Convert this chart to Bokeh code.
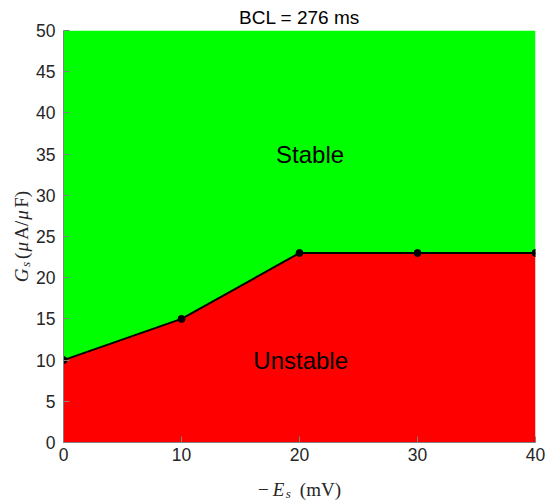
import math
from bokeh.plotting import figure
from bokeh.models import Range1d, Label, FixedTicker
from bokeh.core.properties import value
from bokeh.embed import file_html
from bokeh.resources import INLINE

# ---- data ----
es_values = [0, 10, 20, 30, 40]          # -E_s (mV)
gs_boundary = [10, 15, 23, 23, 23]       # G_s (uA/uF) stability boundary
g_max = 50
g_min = 0
x_ticks = [0, 10, 20, 30, 40]
y_ticks = [0, 5, 10, 15, 20, 25, 30, 35, 40, 45, 50]
title_text = "BCL = 276 ms"
region_labels = ["Stable", "Unstable"]
region_x = [20.9, 20.1]
region_y = [35, 10]

# ---- layout ----
W, H = 546, 500
BL, BR, BT, BB = 63, 11, 30, 58

p = figure(width=W, height=H, output_backend="svg", toolbar_location=None,
           x_range=Range1d(0, 40), y_range=Range1d(0, 50),
           min_border_left=BL, min_border_right=BR, min_border_top=BT, min_border_bottom=BB)
p.outline_line_color = None
p.xgrid.visible = False
p.ygrid.visible = False
p.background_fill_color = "white"

p.title.text = title_text
p.title.align = "center"
p.title.text_font = "Liberation Sans"
p.title.text_font_size = "19px"
p.title.text_font_style = "normal"
p.title.text_color = "black"
p.title.standoff = 5

p.varea(x=es_values, y1=gs_boundary, y2=[g_max] * len(es_values), fill_color="#00ff00")
p.varea(x=es_values, y1=[g_min] * len(es_values), y2=gs_boundary, fill_color="#ff0000")
p.line(es_values, gs_boundary, line_color="black", line_width=2)
p.scatter(es_values, gs_boundary, size=7, color="black")

for ax, ticks, standoff in ((p.xaxis, x_ticks, 5), (p.yaxis, y_ticks, 8)):
    ax.ticker = FixedTicker(ticks=ticks)
    ax.major_tick_in = 6
    ax.major_tick_out = 0
    ax.minor_tick_line_color = None
    ax.axis_line_color = "#808080"
    ax.major_tick_line_color = "#808080"
    ax.major_label_text_font = "Liberation Sans"
    ax.major_label_text_font_size = "17.5px"
    ax.major_label_text_color = "#262626"
    ax.major_label_standoff = standoff

for txt, rx, ry in zip(region_labels, region_x, region_y):
    p.add_layout(Label(x=rx, y=ry, text=txt, text_align="center", text_baseline="middle",
                       text_font="Liberation Sans", text_font_size="24px", text_color="black"))

# axis labels composed of pieces (math-like), drawn as overlay-level text glyphs
R = {"−": 0.564, "(": 0.333, ")": 0.333, "m": 0.778, "V": 0.722, "A": 0.722,
     "/": 0.278, "F": 0.556, " ": 0.25}
I = {"E": 0.611, "G": 0.722, "s": 0.389, "μ": 0.576}

def width(txt, style, size):
    tbl = I if style == "italic" else R
    return sum(tbl.get(c, 0.5) for c in txt) * size

xlab = [("−", "normal", 19, 0, 4), ("E", "italic", 19, 0, 1.5), ("s", "italic", 13, 4, 9),
        ("(mV)", "normal", 19, 0, 0)]
ylab = [("G", "italic", 19, 0, 1.5), ("s", "italic", 13, 4, 3), ("(", "normal", 19, 0, 1),
        ("μ", "italic", 19, 0, 1), ("A/", "normal", 19, 0, 1), ("μ", "italic", 19, 0, 1),
        ("F)", "normal", 19, 0, 0)]

tot = sum(width(t, s, f) + g for t, s, f, o, g in xlab)
pos = -tot / 2
for t, s, f, o, g in xlab:
    p.text(x=[20], y=[0], text=[t], x_offset=pos, y_offset=47 + o,
           text_align="left", text_baseline="alphabetic", text_font=value("Liberation Serif"),
           text_font_style=s, text_font_size=f"{f}px", text_color="#262626", level="overlay")
    pos += width(t, s, f) + g

tot = sum(width(t, s, f) + g for t, s, f, o, g in ylab)
pos = -tot / 2
for t, s, f, o, g in ylab:
    p.text(x=[0], y=[25], text=[t], x_offset=-42 + o, y_offset=-pos, angle=math.pi / 2,
           text_align="left", text_baseline="alphabetic", text_font=value("Liberation Serif"),
           text_font_style=s, text_font_size=f"{f}px", text_color="#262626", level="overlay")
    pos += width(t, s, f) + g

open("out.html", "w").write(file_html(p, INLINE))
